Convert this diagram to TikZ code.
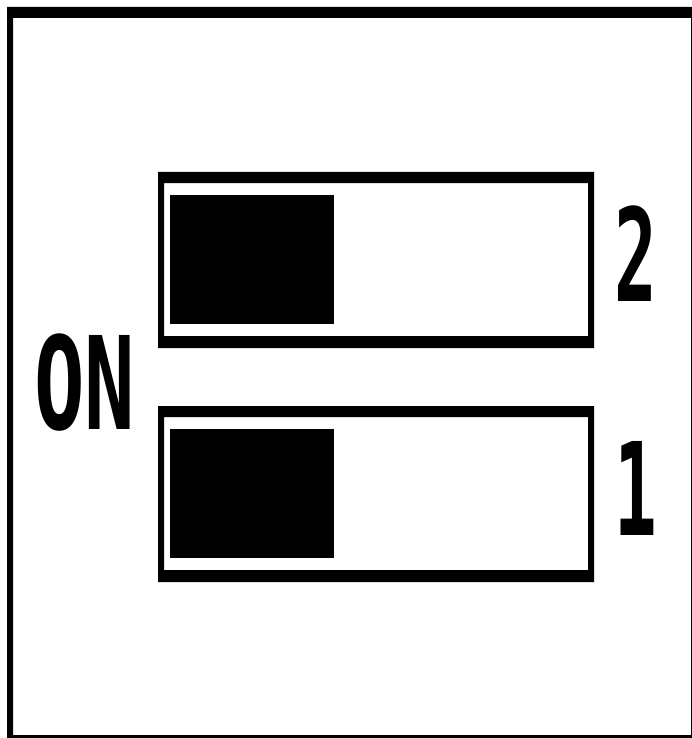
\documentclass[tikz,border=0pt]{standalone}
\usepackage{fontspec}
\newfontfamily\pixfont{DejaVu Sans Mono}

\tikzset{
  knob/.style={fill=black, inner sep=0pt, minimum width=164pt, minimum height=129pt, anchor=north west},
  lbl/.style={inner sep=0pt, font=\pixfont\bfseries\fontsize{129}{129}\selectfont}
}

\begin{document}
\begin{tikzpicture}[x=1pt, y=-1pt]
	\useasboundingbox (0,0) rectangle (691,738);
	% outer frame
	\fill[even odd rule] (7,7) rectangle (700,741) (13,18) rectangle (691,735);
	% the two switches
	\foreach \ytop/\idx in {172/2, 406/1} {
		\fill[even odd rule] (158,\ytop) rectangle ++(436,176) (164,\ytop+11) rectangle ++(424,153);
		\node[knob] (knob\idx) at (170,\ytop+23) {};
		\node[lbl] (num\idx) at (636,\ytop+82) {\scalebox{0.55}[1]{\idx}};
	}
	\node[lbl] (on) at (84.5,383) {\scalebox{0.65}[1]{ON}};
\end{tikzpicture}
\end{document}
